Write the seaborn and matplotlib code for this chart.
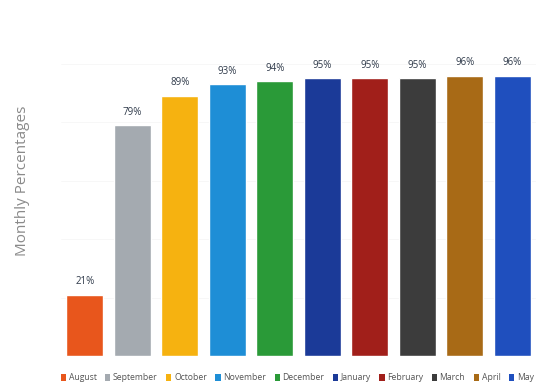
import matplotlib
matplotlib.use("Agg")
import matplotlib.pyplot as plt
import seaborn as sns
import pandas as pd
from matplotlib.patches import Patch

months = ["August", "September", "October", "November", "December",
          "January", "February", "March", "April", "May"]
values = [21, 79, 89, 93, 94, 95, 95, 95, 96, 96]
labels = ["21%", "79%", "89%", "93%", "94%", "95%", "95%", "95%", "96%", "96%"]
colors = ["#E8561C", "#A4AAB0", "#F6B210", "#1E8ED6", "#2A9A38",
          "#1B3A98", "#A11F1A", "#3C3C3C", "#A86A16", "#1F4FBE"]

sns.set_theme(style="white")
plt.rcParams['font.family'] = ['Open Sans', 'DejaVu Sans']

df = pd.DataFrame({"month": months, "value": values})

fig = plt.figure(figsize=(5.56, 3.92), dpi=100)
ax = fig.add_axes([0.110, 0.092, 0.854, 0.745])
sns.barplot(data=df, x="month", y="value", hue="month", palette=colors,
            width=0.78, saturation=1, legend=False, ax=ax)
ax.set_ylim(0, 100)
ax.set_xlim(-0.5, len(months) - 0.5)
for y in [20, 40, 60, 80, 100]:
    ax.axhline(y, color="#f4f4f4", lw=0.5, zorder=0)
for i, (v, lab) in enumerate(zip(values, labels)):
    ax.text(i, v + 2.6, lab, ha="center", va="bottom", fontsize=7, color="#2F3A4A")
for s in ax.spines.values():
    s.set_visible(False)
ax.set_xticks([])
ax.set_yticks([])
ax.set_xlabel("")
ax.set_ylabel("")
fig.text(0.040, 0.538, "Monthly Percentages", rotation=90, ha="center", va="center",
         fontsize=11, color="#8a8a8a")

handles = [Patch(facecolor=c, edgecolor="none", label=m) for m, c in zip(months, colors)]
fig.legend(handles=handles, loc="center", bbox_to_anchor=(0.535, 0.036), ncol=10,
           frameon=False, fontsize=6.2, handlelength=0.6, handleheight=0.9,
           handletextpad=0.3, columnspacing=1.0, labelcolor="#555555")

fig.savefig("out.png", dpi=100)
